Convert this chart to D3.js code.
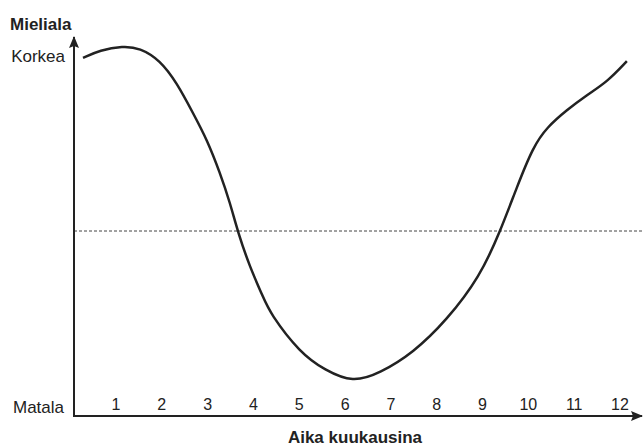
<!DOCTYPE html>
<html>
<head>
<meta charset="utf-8">
<script src="https://cdn.jsdelivr.net/npm/d3@7"></script>
<style>
  body { margin: 0; background: #fff; }
  text { font-family: "Liberation Sans", Arial, sans-serif; fill: #222; }
</style>
</head>
<body>
<svg id="chart" width="643" height="446"></svg>
<script>
// mood curve (month position, mood 0 = Matala .. 10 = Korkea)
var months = [0.28, 0.65, 1.15, 1.52, 1.96, 2.33, 2.68, 2.99, 3.27, 3.49, 3.66, 3.92, 4.21, 4.36, 5.02, 5.56, 6.17, 6.76, 7.48, 8.22, 8.94, 9.38, 9.75, 10.10, 10.41, 10.84, 11.28, 11.72, 12.15];
var mood   = [9.68, 9.89, 10.0, 9.95, 9.62, 9.00, 8.19, 7.46, 6.57, 5.76, 4.97, 4.03, 3.22, 2.78, 1.70, 1.24, 0.90, 1.16, 1.70, 2.59, 3.76, 4.97, 6.19, 7.27, 7.81, 8.27, 8.68, 9.03, 9.59];
var monthTicks = [1, 2, 3, 4, 5, 6, 7, 8, 9, 10, 11, 12];
var average = 5;
var yLabels = ["Matala", "Korkea"];

var svg = d3.select("#chart");

var x0 = 74, y0 = 416;

var x = d3.scaleLinear().domain([1, 12]).range([116, 620]);
var y = d3.scaleLinear().domain([0, 10]).range([y0, 46]);

var defs = svg.append("defs");
defs.append("marker")
    .attr("id", "arrow")
    .attr("viewBox", "0 -5 12 10")
    .attr("refX", 11)
    .attr("refY", 0)
    .attr("orient", "auto")
    .attr("markerUnits", "userSpaceOnUse")
    .attr("markerWidth", 12)
    .attr("markerHeight", 10)
    .append("path")
    .attr("d", "M0,-5 L12,0 L0,5 L2,0 Z")
    .attr("fill", "#222");

// dashed average line
svg.append("line")
    .attr("x1", x0).attr("x2", 643)
    .attr("y1", y(average)).attr("y2", y(average))
    .attr("stroke", "#444")
    .attr("stroke-width", 1)
    .attr("stroke-dasharray", "3,2");

// axes
svg.append("line")
    .attr("x1", x0).attr("y1", y0)
    .attr("x2", x0).attr("y2", 37)
    .attr("stroke", "#222").attr("stroke-width", 2)
    .attr("marker-end", "url(#arrow)");
svg.append("line")
    .attr("x1", x0 - 1).attr("y1", y0)
    .attr("x2", 642).attr("y2", y0)
    .attr("stroke", "#222").attr("stroke-width", 2)
    .attr("marker-end", "url(#arrow)");

// month labels
svg.selectAll(".tick")
    .data(monthTicks)
    .enter()
    .append("text")
    .attr("class", "tick")
    .attr("x", function(d) { return x(d); })
    .attr("y", 410)
    .attr("text-anchor", "middle")
    .attr("font-size", 16)
    .text(function(d) { return d; });

// mood curve
var line = d3.line()
    .x(function(d, i) { return x(months[i]); })
    .y(function(d) { return y(d); })
    .curve(d3.curveBasis);

svg.append("path")
    .datum(mood)
    .attr("d", line)
    .attr("fill", "none")
    .attr("stroke", "#222")
    .attr("stroke-width", 2.5);

// labels
svg.append("text")
    .attr("x", 64).attr("y", 413)
    .attr("text-anchor", "end")
    .attr("font-size", 17)
    .text(yLabels[0]);
svg.append("text")
    .attr("x", 65).attr("y", 62)
    .attr("text-anchor", "end")
    .attr("font-size", 17)
    .text(yLabels[1]);
svg.append("text")
    .attr("x", 10).attr("y", 30)
    .attr("font-size", 17)
    .attr("font-weight", "bold")
    .text("Mieliala");
svg.append("text")
    .attr("x", 355).attr("y", 443)
    .attr("text-anchor", "middle")
    .attr("font-size", 17)
    .attr("font-weight", "bold")
    .text("Aika kuukausina");
</script>
</body>
</html>
